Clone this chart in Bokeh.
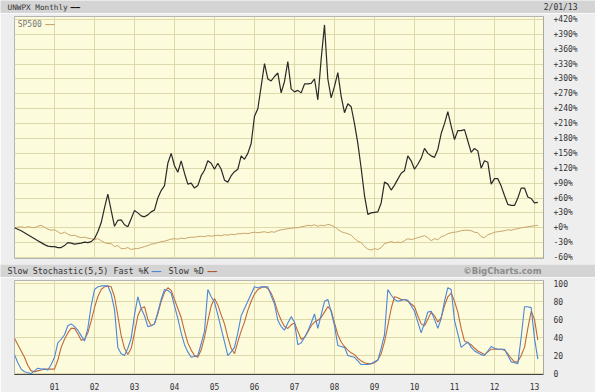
from bokeh.plotting import figure
from bokeh.models import Label, FixedTicker, Range1d
from bokeh.layouts import column
from bokeh.embed import file_html
from bokeh.resources import INLINE

# ---------------- data (monthly, Jan 2000 .. Feb 2013) ----------------
start_year = 2000
unwpx = [0, -3, -6, -10, -14, -18, -22, -26, -30, -34,
         -37, -38, -38, -40, -40, -36, -30, -31, -33, -32,
         -31, -29, -30, -28, -22, -8, 10, 40, 68, 35,
         3, 15, 16, 6, 2, 18, 35, 30, 24, 22,
         26, 32, 36, 60, 75, 85, 130, 150, 125, 112,
         135, 110, 88, 90, 80, 85, 105, 116, 135, 130,
         118, 130, 118, 96, 92, 105, 113, 118, 145, 138,
         150, 170, 225, 240, 285, 331, 300, 296, 305, 312,
         272, 295, 335, 280, 274, 277, 272, 290, 290, 291,
         300, 258, 340, 409, 300, 262, 285, 313, 265, 232,
         250, 244, 210, 170, 120, 65, 27, 30, 31, 32,
         50, 92, 88, 76, 86, 98, 110, 115, 145, 135,
         118, 128, 140, 160, 150, 145, 142, 158, 190, 210,
         234, 205, 178, 196, 196, 198, 175, 152, 160, 155,
         120, 135, 132, 88, 99, 99, 84, 65, 47, 45,
         45, 60, 80, 80, 62, 59, 50, 51]

sp500 = [0, 1, 2, 0, 2, 1, 0, 3, 5, 1,
         -3, -5, -4, -8, -12, -9, -13, -16, -15, -18,
         -20, -19, -21, -22, -24, -22, -26, -30, -32, -32,
         -38, -36, -42, -42, -40, -44, -42, -42, -40, -38,
         -36, -33, -32, -30, -28, -27, -25, -23, -22, -23,
         -21, -22, -20, -19, -19, -18, -17, -18, -16, -17,
         -16, -15, -16, -14, -15, -13, -14, -12, -12, -11,
         -12, -10, -9, -10, -9, -8, -10, -8, -9, -6,
         -4, -3, -2, -1, 0, 0, 2, 3, 5, 4,
         6, 3, 5, 4, 7, 5, 2, -3, -8, -10,
         -12, -15, -22, -27, -30, -38, -43, -45, -42, -44,
         -40, -32, -30, -28, -30, -29, -30, -26, -22, -24,
         -22, -20, -18, -16, -20, -26, -22, -24, -18, -16,
         -12, -10, -9, -8, -6, -5, -5, -6, -9, -10,
         -18, -20, -14, -12, -9, -8, -7, -6, -4, -5,
         -3, -2, 0, 1, 2, 3, 4, 5]

fast_k = [21, 12, 5, 2, 1, 0, 3, 6, 5, 5,
          4, 10, 18, 34, 38, 43, 53, 55, 52, 48,
          42, 36, 50, 75, 93, 96, 97, 97, 97, 88,
          71, 29, 22, 20, 28, 39, 65, 85, 72, 64,
          52, 53, 55, 68, 82, 93, 92, 89, 75, 61,
          45, 32, 24, 18, 19, 20, 33, 47, 93, 85,
          79, 65, 50, 35, 20, 24, 29, 45, 64, 72,
          80, 88, 96, 95, 96, 96, 96, 86, 77, 59,
          52, 48, 56, 63, 57, 32, 34, 40, 47, 56,
          66, 50, 65, 80, 82, 68, 53, 31, 30, 29,
          20, 19, 18, 14, 10, 10, 10, 11, 13, 15,
          28, 43, 93, 87, 82, 80, 81, 82, 81, 75,
          69, 57, 45, 56, 68, 69, 60, 50, 61, 80,
          95, 93, 59, 44, 29, 32, 35, 29, 25, 23,
          21, 20, 25, 30, 28, 27, 27, 27, 20, 13,
          12, 11, 40, 74, 74, 73, 39, 16]

slow_d = [39, 32, 25, 18, 9, 3, 2, 3, 4, 5,
          5, 5, 5, 15, 29, 38, 45, 50, 50, 44,
          37, 38, 45, 58, 73, 85, 93, 96, 97, 96,
          85, 64, 42, 28, 21, 28, 45, 64, 72, 74,
          60, 53, 55, 66, 80, 90, 95, 92, 82, 72,
          62, 47, 34, 26, 20, 18, 26, 40, 58, 75,
          83, 76, 65, 55, 40, 28, 22, 35, 47, 57,
          70, 80, 88, 93, 95, 96, 94, 89, 80, 68,
          59, 52, 50, 54, 56, 47, 38, 40, 46, 53,
          57, 59, 62, 68, 74, 70, 56, 43, 35, 30,
          26, 23, 21, 17, 14, 12, 11, 11, 12, 15,
          22, 35, 53, 72, 85, 84, 82, 82, 80, 77,
          74, 64, 55, 53, 60, 68, 64, 57, 62, 75,
          85, 89, 80, 68, 50, 36, 34, 32, 28, 25,
          23, 21, 24, 27, 27, 27, 27, 26, 22, 17,
          13, 13, 20, 29, 50, 69, 60, 37]

year_ticks = list(range(2001, 2014))
year_labels = ["01", "02", "03", "04", "05", "06", "07", "08", "09", "10", "11", "12", "13"]
pct_ticks = [-60, -30, 0, 30, 60, 90, 120, 150, 180, 210, 240, 270, 300, 330, 360, 390, 420]
pct_labels = ["-60%", "-30%", "+0%", "+30%", "+60%", "+90%", "+120%", "+150%", "+180%",
              "+210%", "+240%", "+270%", "+300%", "+330%", "+360%", "+390%", "+420%"]
stoch_ticks = [0, 20, 40, 60, 80, 100]
stoch_labels = ["0", "20", "40", "60", "80", "100"]

month_x = [start_year + i / 12 for i in range(len(unwpx))]

# ---------------- style ----------------
W = 595
LB, RB = 14, 52            # side borders of the two chart panels
BAND = "#D4D4D4"
OUTER = "#EEEEEE"
PLOT_BG = "#FCFBDC"
GRID = "#DDD9AA"
MONO = "DejaVu Sans Mono"
TXT = "#333333"

x_rng = Range1d(2000.0, 2013.225)


def band_fig(h):
    # full-width frame, data units equal pixels
    f = figure(width=W, height=h, x_range=Range1d(0, W), y_range=Range1d(0, h),
               x_axis_location=None, y_axis_location=None, toolbar_location=None,
               output_backend="svg", min_border=0, outline_line_color=None,
               background_fill_color=BAND, border_fill_color=BAND)
    f.grid.visible = False
    if "frame_align" in f.properties():
        f.frame_align = False
    return f


def lbl(f, x, y, text, color=TXT, size="8px", font=MONO, align="left", style="normal"):
    f.add_layout(Label(x=x, y=y, text=text, text_color=color, text_font=font,
                       text_font_size=size, text_align=align, text_baseline="middle",
                       text_font_style=style))


# header band
head = band_fig(13)
lbl(head, 7, 6.5, "UNWPX Monthly", size="7.7px")
lbl(head, 70, 6.5, "\u2014\u2014", color="#111111", style="bold")
lbl(head, 577, 6.5, "2/01/13", align="right")

# main panel
main = figure(width=W, height=251, x_range=x_rng, y_range=Range1d(-62, 426),
              x_axis_location=None, y_axis_location="right", toolbar_location=None,
              output_backend="svg", min_border_left=LB, min_border_right=RB,
              min_border_top=3, min_border_bottom=6,
              background_fill_color=PLOT_BG, border_fill_color=OUTER,
              outline_line_color="#B4B4B4")
main.xgrid.ticker = FixedTicker(ticks=year_ticks)
main.ygrid.ticker = FixedTicker(ticks=pct_ticks)
for g in main.grid:
    g.grid_line_color = GRID
    g.grid_line_width = 1
ay = main.yaxis[0]
ay.ticker = FixedTicker(ticks=pct_ticks)
ay.major_label_overrides = {t: s for t, s in zip(pct_ticks, pct_labels)}
ay.major_tick_line_color = None
ay.minor_tick_line_color = None
ay.axis_line_color = "#A8A8A8"
ay.major_label_text_font = MONO
ay.major_label_text_font_size = "8px"
ay.major_label_text_color = TXT
ay.major_label_standoff = 4

main.line(month_x, sp500, color="#C9A56A", line_width=1)
main.line(month_x, unwpx, color="#2A2A2A", line_width=1.2)
lbl(main, 2000.08, 410, "SP500", color="#777777")
lbl(main, 2000.77, 410, "\u2014\u2014", color="#C9A56A", style="bold")

# separator band
sep = band_fig(13)
lbl(sep, 7, 6.5, "Slow Stochastic(5,5) Fast %K", size="8.4px")
lbl(sep, 151, 6.5, "\u2014\u2014", color="#4E86D6", style="bold")
lbl(sep, 168, 6.5, "Slow %D", size="8.4px")
lbl(sep, 207, 6.5, "\u2014\u2014", color="#B5542A", style="bold")
lbl(sep, 541, 6.5, "\u00a9BigCharts.com", color="#8C8C8C", size="8.5px",
    font="DejaVu Sans", align="right", style="bold")

# lower panel
low = figure(width=W, height=115, x_range=x_rng, y_range=Range1d(-1, 103),
             y_axis_location="right", toolbar_location=None, output_backend="svg",
             min_border_left=LB, min_border_right=RB, min_border_top=3, min_border_bottom=14,
             background_fill_color=PLOT_BG, border_fill_color=OUTER,
             outline_line_color="#B4B4B4")
for g in low.grid:
    g.grid_line_color = GRID
    g.grid_line_width = 1
ax = low.xaxis[0]
ax.ticker = FixedTicker(ticks=year_ticks)
ax.major_label_overrides = {t: s for t, s in zip(year_ticks, year_labels)}
ax.major_tick_line_color = None
ax.minor_tick_line_color = None
ax.axis_line_color = "#444444"
ax.axis_line_width = 1.2
ax.major_label_text_font = MONO
ax.major_label_text_font_size = "8px"
ax.major_label_text_color = TXT
ax.major_label_standoff = 2
ly = low.yaxis[0]
ly.ticker = FixedTicker(ticks=stoch_ticks)
ly.major_label_overrides = {t: s for t, s in zip(stoch_ticks, stoch_labels)}
ly.major_tick_line_color = None
ly.minor_tick_line_color = None
ly.axis_line_color = "#A8A8A8"
ly.major_label_text_font = MONO
ly.major_label_text_font_size = "8px"
ly.major_label_text_color = TXT
ly.major_label_standoff = 4

low.line(month_x, slow_d, color="#C0683A", line_width=1.1)
low.line(month_x, fast_k, color="#4E86D6", line_width=1.1)

layout = column(head, main, sep, low, spacing=0)
open("out.html", "w").write(file_html(layout, INLINE))
